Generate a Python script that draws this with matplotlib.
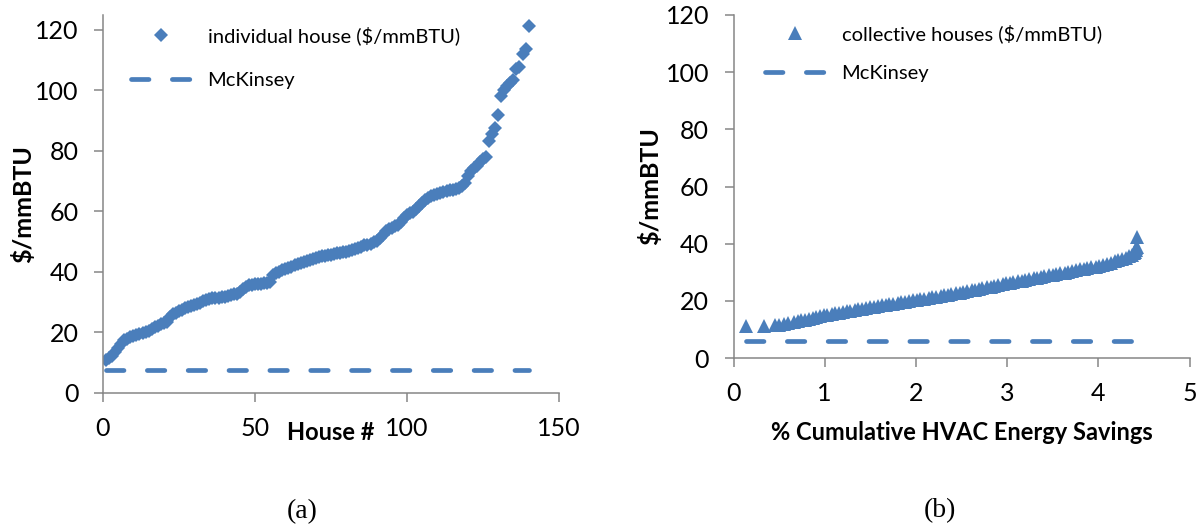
import matplotlib
matplotlib.use("Agg")
import matplotlib.pyplot as plt

# cost per house, sorted (house # 1..140)
house_cost = [
    10.8, 11.3, 12.2, 13.5, 14.8, 16.0, 17.2, 17.8, 18.3, 18.6,
    19.0, 19.3, 19.6, 20.0, 20.4, 20.9, 21.5, 22.0, 22.6, 23.0,
    23.4, 24.8, 26.0, 26.4, 26.8, 27.3, 27.8, 28.2, 28.5, 28.9,
    29.3, 29.7, 30.1, 30.5, 30.8, 31.1, 31.3, 31.4, 31.5, 31.7,
    31.9, 32.1, 32.4, 32.7, 33.2, 34.2, 35.0, 35.5, 35.7, 35.8,
    35.9, 36.0, 36.1, 36.2, 36.4, 38.8, 39.6, 40.0, 40.4, 40.8,
    41.2, 41.6, 42.0, 42.4, 42.8, 43.1, 43.5, 43.9, 44.2, 44.5,
    44.8, 45.0, 45.2, 45.4, 45.6, 45.8, 46.0, 46.2, 46.4, 46.6,
    46.8, 47.1, 47.4, 47.8, 48.2, 48.6, 48.9, 49.2, 49.6, 50.2,
    51.0, 52.2, 53.3, 54.0, 54.5, 55.0, 55.5, 56.3, 57.8, 58.6,
    59.2, 59.8, 60.8, 61.8, 62.7, 63.5, 64.3, 64.8, 65.2, 65.6,
    65.9, 66.2, 66.5, 66.8, 67.0, 67.3, 67.6, 68.3, 69.1, 71.5,
    73.2, 74.2, 75.0, 76.2, 77.2, 78.0, 83.2, 85.5, 87.3, 91.8,
    98.0, 100.0, 101.2, 102.2, 103.2, 106.8, 107.5, 111.8, 113.5, 121.3,
]
house_no = list(range(1, len(house_cost) + 1))

# collective houses: cumulative HVAC savings (%) vs cost
cum_savings = [
    0.14, 0.33, 0.45, 0.50, 0.55, 0.60, 0.66, 0.71, 0.74, 0.78,
    0.83, 0.87, 0.90, 0.95, 0.99, 1.03, 1.08, 1.11, 1.16, 1.20,
    1.24, 1.28, 1.33, 1.37, 1.41, 1.45, 1.50, 1.54, 1.58, 1.63,
    1.67, 1.71, 1.75, 1.80, 1.84, 1.88, 1.92, 1.97, 2.01, 2.05,
    2.09, 2.14, 2.18, 2.22, 2.27, 2.31, 2.35, 2.39, 2.44, 2.48,
    2.52, 2.56, 2.61, 2.65, 2.69, 2.73, 2.78, 2.82, 2.86, 2.90,
    2.95, 2.99, 3.03, 3.07, 3.12, 3.16, 3.20, 3.24, 3.29, 3.33,
    3.37, 3.41, 3.46, 3.50, 3.54, 3.58, 3.63, 3.67, 3.71, 3.75,
    3.80, 3.84, 3.88, 3.92, 3.97, 4.01, 4.05, 4.09, 4.14, 4.18,
    4.22, 4.26, 4.30, 4.34, 4.37, 4.39, 4.40, 4.41, 4.41, 4.42,
    4.42,
]
collective_cost = [
    11.2, 11.2, 11.4, 11.7, 12.0, 12.3, 12.6, 13.0, 13.2, 13.4,
    13.8, 14.0, 14.3, 14.6, 14.9, 15.1, 15.4, 15.6, 15.9, 16.1,
    16.3, 16.5, 16.8, 17.0, 17.2, 17.4, 17.7, 17.9, 18.1, 18.4,
    18.6, 18.8, 19.0, 19.3, 19.5, 19.7, 19.9, 20.2, 20.4, 20.6,
    20.8, 21.0, 21.2, 21.4, 21.7, 21.9, 22.1, 22.3, 22.6, 22.9,
    23.1, 23.4, 23.7, 23.9, 24.1, 24.4, 24.7, 25.0, 25.2, 25.5,
    25.8, 26.1, 26.3, 26.6, 26.8, 27.1, 27.3, 27.6, 27.9, 28.1,
    28.4, 28.6, 28.9, 29.1, 29.4, 29.7, 29.9, 30.2, 30.5, 30.7,
    31.0, 31.3, 31.5, 31.8, 32.0, 32.3, 32.7, 33.0, 33.4, 33.8,
    34.2, 34.7, 35.1, 35.6, 36.0, 36.6, 37.2, 37.8, 38.4, 39.0,
    42.3,
]

mckinsey_a = 7.5
mckinsey_b = 5.8

blue = "#4a7ebb"
grey = "#868686"
W, H = 1197, 532

plt.rcParams["font.family"] = ["Lato", "DejaVu Sans"]

fig = plt.figure(figsize=(W / 100, H / 100), dpi=100)
ax1 = fig.add_axes([103 / W, 1 - 392.5 / H, 456 / W, 377.5 / H])
ax2 = fig.add_axes([733.5 / W, 1 - 358 / H, 456 / W, 343 / H])

dash = (0, (3.7, 4.95))

ax1.plot(house_no, house_cost, ls="none", marker="D", ms=7.4, mew=0,
         color=blue, label="individual house ($/mmBTU)")
ax1.plot([house_no[0], house_no[-1]], [mckinsey_a, mckinsey_a], ls=dash,
         lw=3.4, color=blue, dash_capstyle="round", label="McKinsey")

ax2.plot(cum_savings, collective_cost, ls="none", marker="^", ms=10.5, mew=0,
         color=blue, label="collective houses ($/mmBTU)")
ax2.plot([cum_savings[0], cum_savings[-1]], [mckinsey_b, mckinsey_b], ls=dash,
         lw=3.4, color=blue, dash_capstyle="round", label="McKinsey")

ax1.set_xlim(0, 150)
ax1.set_ylim(0, 124.8)
ax1.set_xticks([0, 50, 100, 150])
ax1.set_yticks(range(0, 121, 20))
ax2.set_xlim(0, 5)
ax2.set_ylim(0, 120)
ax2.set_xticks(range(0, 6))
ax2.set_yticks(range(0, 121, 20))

for ax in (ax1, ax2):
    for s in ("top", "right"):
        ax.spines[s].set_visible(False)
    for s in ("left", "bottom"):
        ax.spines[s].set_color(grey)
        ax.spines[s].set_linewidth(1.1)
    ax.tick_params(direction="out", length=6.5, width=1.1, color=grey,
                   labelsize=18, pad=11)
    ax.set_ylabel("$/mmBTU", fontsize=18, fontweight="bold")
    ax.yaxis.label.set_va("center")

ax1.set_xlabel("House #", fontsize=17, fontweight="bold")
ax1.xaxis.label.set_va("center")
ax1.xaxis.set_label_coords(0.5, -(433 - 392.5) / 377.5)
ax1.yaxis.set_label_coords((23 - 103) / 456, 0.5)

ax2.set_xlabel("% Cumulative HVAC Energy Savings", fontsize=17, fontweight="bold")
ax2.xaxis.label.set_va("center")
ax2.xaxis.set_label_coords(0.5, -(433 - 358) / 343)
ax2.yaxis.set_label_coords((650 - 733.5) / 456, 0.5)

leg_kw = dict(frameon=False, borderpad=0, fontsize=14.5, handlelength=3.0,
              handletextpad=0.8, numpoints=1, borderaxespad=0,
              loc="upper left", bbox_transform=fig.transFigure)
ax1.legend(bbox_to_anchor=(131 / W, 1 - 26 / H), labelspacing=1.35, **leg_kw)
ax2.legend(bbox_to_anchor=(765 / W, 1 - 24.5 / H), labelspacing=1.08, **leg_kw)

fig.text(302 / W, 1 - 512 / H, "(a)", ha="center", va="center",
         family="Liberation Serif", fontsize=20)
fig.text(940 / W, 1 - 511 / H, "(b)", ha="center", va="center",
         family="Liberation Serif", fontsize=20)

fig.savefig("out.png", dpi=100)
